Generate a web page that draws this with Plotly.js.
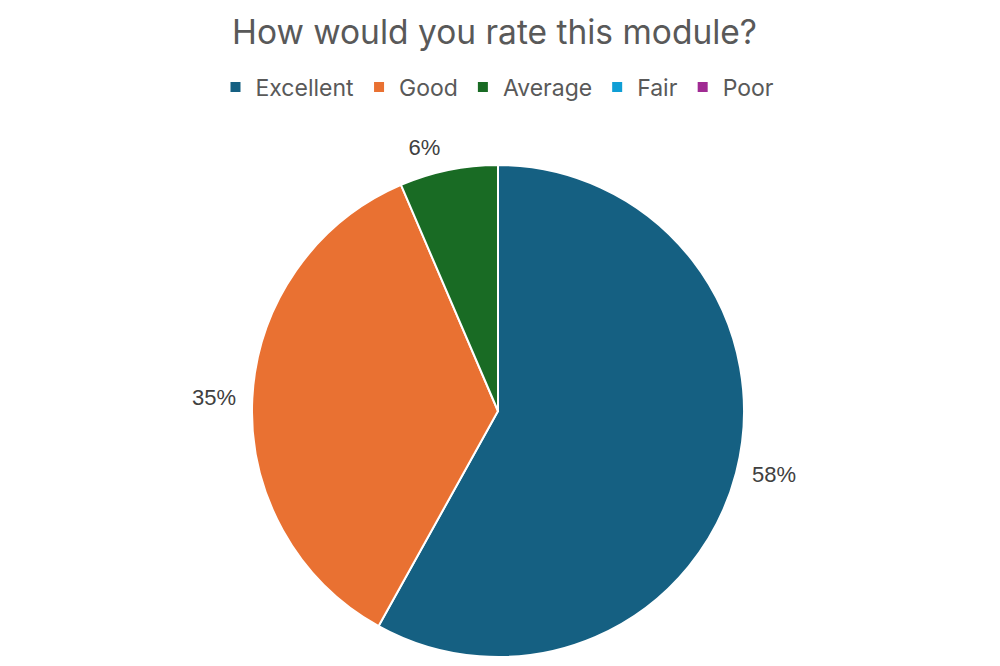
<!DOCTYPE html>
<html>
<head>
<meta charset="utf-8">
<script src="https://cdn.plot.ly/plotly-3.0.1.min.js"></script>
<style>html,body{margin:0;padding:0;background:#fff;}#chart{width:1000px;height:666px;}</style>
</head>
<body>
<div id="chart"></div>
<script>
const categories = ["Excellent", "Good", "Average", "Fair", "Poor"];
const counts = [18, 11, 2, 0, 0];
const colors = ["#156082", "#E97132", "#196B24", "#0F9ED5", "#A02B93"];
const chartTitle = "How would you rate this module?";

const FONT = "Inter, 'Open Sans', 'Liberation Sans', sans-serif";
const LABFONT = "'Liberation Sans', Arial, sans-serif";

// main pie (slices + legend)
const pieTrace = {
  type: "pie",
  labels: categories,
  values: counts,
  sort: false,
  direction: "clockwise",
  rotation: 0,
  marker: {colors: colors, line: {color: "#ffffff", width: 2}},
  textinfo: "none",
  automargin: false,
  showlegend: true,
  hoverinfo: "label+value+percent",
  domain: {x: [0.252, 0.744], y: [1 - 657/666, 1 - 165/666]}
};

// data labels, placed slightly further out like the original
const labelTrace = {
  type: "pie",
  labels: categories,
  values: counts,
  sort: false,
  direction: "clockwise",
  rotation: 0,
  marker: {colors: categories.map(() => "rgba(0,0,0,0)"), line: {width: 0}},
  texttemplate: counts.map(v => v > 0 ? "%{percent:.0%}" : ""),
  textposition: "outside",
  outsidetextfont: {family: LABFONT, size: 22, color: "#404040"},
  automargin: false,
  showlegend: false,
  hoverinfo: "skip",
  domain: {x: [0.242, 0.754], y: [0.0, 1 - 154/666]}
};

const layout = {
  width: 1000,
  height: 666,
  margin: {l: 0, r: 0, t: 0, b: 0},
  paper_bgcolor: "#ffffff",
  title: {
    text: chartTitle,
    font: {family: FONT, size: 33.5, color: "#595959"},
    x: 0.4945, xanchor: "center",
    y: 1 - 32/666, yanchor: "middle"
  },
  legend: {
    orientation: "h",
    x: 0.4975, xanchor: "center",
    y: 1 - 87/666, yanchor: "middle",
    font: {family: FONT, size: 23, color: "#595959"},
    traceorder: "normal"
  }
};

Plotly.newPlot("chart", [pieTrace, labelTrace], layout, {displayModeBar: false, staticPlot: true});
</script>
</body>
</html>
